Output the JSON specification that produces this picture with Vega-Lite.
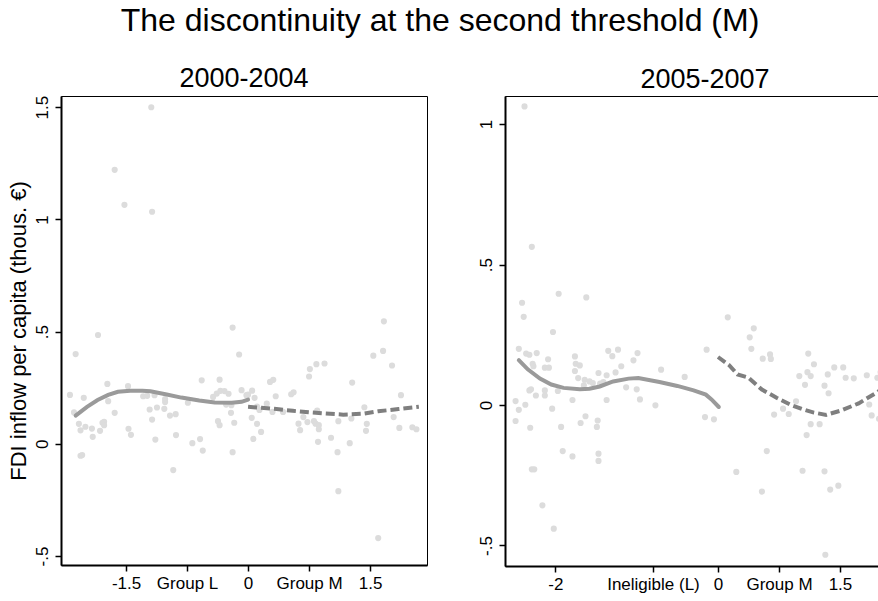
{
  "$schema": "https://vega.github.io/schema/vega-lite/v6.json",
  "background": "white",
  "padding": {"left": 6, "top": 4, "right": 0, "bottom": 0},
  "title": {"text": "The discontinuity at the second threshold (M)", "fontSize": 32, "anchor": "middle", "offset": 27, "dx": -16},
  "datasets": {
    "p1": [
      {"x": -1.845, "y": 0.485}, {"x": -2.12, "y": 0.40}, {"x": -0.19, "y": 0.518}, {"x": -0.11, "y": 0.398},
      {"x": -2.19, "y": 0.218}, {"x": -2.02, "y": 0.205}, {"x": -1.73, "y": 0.267}, {"x": -1.72, "y": 0.19},
      {"x": -2.14, "y": 0.14}, {"x": -2.08, "y": 0.089}, {"x": -2.06, "y": 0.06}, {"x": -2.0, "y": 0.076},
      {"x": -1.92, "y": 0.068}, {"x": -1.91, "y": 0.031}, {"x": -1.79, "y": 0.094}, {"x": -1.77, "y": 0.098},
      {"x": -1.77, "y": 0.083}, {"x": -1.82, "y": 0.058}, {"x": -2.06, "y": -0.053}, {"x": -2.04, "y": -0.05},
      {"x": -1.64, "y": 0.138}, {"x": -1.476, "y": 0.257}, {"x": -1.47, "y": 0.067}, {"x": -1.44, "y": 0.04},
      {"x": -1.29, "y": 0.212}, {"x": -1.24, "y": 0.214}, {"x": -1.15, "y": 0.217}, {"x": -1.21, "y": 0.153},
      {"x": -1.18, "y": 0.108}, {"x": -1.12, "y": 0.162}, {"x": -1.14, "y": 0.019}, {"x": -1.03, "y": 0.156},
      {"x": -1.02, "y": 0.186}, {"x": -1.02, "y": 0.199}, {"x": -0.96, "y": 0.126}, {"x": -0.89, "y": 0.132},
      {"x": -0.886, "y": 0.039}, {"x": -0.92, "y": -0.117}, {"x": -0.74, "y": 0.183}, {"x": -0.685, "y": 0.003},
      {"x": -0.59, "y": 0.021}, {"x": -0.557, "y": -0.03}, {"x": -0.57, "y": 0.283}, {"x": -0.35, "y": 0.286},
      {"x": -0.43, "y": 0.209}, {"x": -0.385, "y": 0.224}, {"x": -0.34, "y": 0.236}, {"x": -0.29, "y": 0.235},
      {"x": -0.24, "y": 0.223}, {"x": -0.27, "y": 0.175}, {"x": -0.205, "y": 0.172}, {"x": -0.21, "y": 0.138},
      {"x": -0.17, "y": 0.094}, {"x": -0.37, "y": 0.101}, {"x": -0.35, "y": 0.083}, {"x": -0.19, "y": -0.037},
      {"x": -0.08, "y": 0.239}, {"x": -0.02, "y": 0.217},
      {"x": 1.67, "y": 0.546}, {"x": 1.66, "y": 0.414}, {"x": 1.54, "y": 0.393}, {"x": 1.77, "y": 0.349},
      {"x": 1.88, "y": 0.217}, {"x": 1.79, "y": 0.119}, {"x": 1.86, "y": 0.071}, {"x": 2.02, "y": 0.074},
      {"x": 2.07, "y": 0.065}, {"x": 1.28, "y": 0.273}, {"x": 1.43, "y": 0.163}, {"x": 1.46, "y": 0.089},
      {"x": 1.45, "y": 0.058}, {"x": 1.25, "y": 0.003}, {"x": 1.10, "y": -0.037}, {"x": 1.02, "y": 0.027},
      {"x": 0.84, "y": 0.355}, {"x": 0.94, "y": 0.358}, {"x": 0.76, "y": 0.333}, {"x": 0.75, "y": 0.30},
      {"x": 0.85, "y": 0.148}, {"x": 0.68, "y": 0.119}, {"x": 0.62, "y": 0.09}, {"x": 0.64, "y": 0.061},
      {"x": 0.73, "y": 0.097}, {"x": 0.81, "y": 0.101}, {"x": 0.83, "y": 0.09}, {"x": 0.87, "y": 0.083},
      {"x": 0.87, "y": 0.065}, {"x": 0.86, "y": 0.009}, {"x": 1.11, "y": 0.101}, {"x": 1.27, "y": 0.113},
      {"x": 0.53, "y": 0.221}, {"x": 0.56, "y": 0.23}, {"x": 0.27, "y": 0.276}, {"x": 0.31, "y": 0.285},
      {"x": 0.34, "y": 0.212}, {"x": 0.30, "y": 0.142}, {"x": 0.43, "y": 0.142}, {"x": 0.05, "y": 0.237},
      {"x": 0.0, "y": 0.219}, {"x": 0.08, "y": 0.205}, {"x": 0.11, "y": 0.166}, {"x": 0.14, "y": 0.151},
      {"x": 0.23, "y": 0.179}, {"x": 0.045, "y": 0.116}, {"x": 0.11, "y": 0.089}, {"x": 0.16, "y": 0.053},
      {"x": 0.065, "y": 0.022}, {"x": 1.11, "y": -0.211}, {"x": 1.6, "y": -0.42},
      {"x": -1.19, "y": 1.50}, {"x": -1.64, "y": 1.221}, {"x": -1.52, "y": 1.065}, {"x": -1.18, "y": 1.034}
    ],
    "f1": [
      {"side": "L", "x": -2.12, "y": 0.126}, {"side": "L", "x": -1.98, "y": 0.165}, {"side": "L", "x": -1.85, "y": 0.195},
      {"side": "L", "x": -1.72, "y": 0.218}, {"side": "L", "x": -1.6, "y": 0.232}, {"side": "L", "x": -1.45, "y": 0.236},
      {"side": "L", "x": -1.3, "y": 0.236}, {"side": "L", "x": -1.2, "y": 0.234}, {"side": "L", "x": -1.0, "y": 0.22},
      {"side": "L", "x": -0.82, "y": 0.206}, {"side": "L", "x": -0.6, "y": 0.193}, {"side": "L", "x": -0.41, "y": 0.184},
      {"side": "L", "x": -0.2, "y": 0.183}, {"side": "L", "x": -0.08, "y": 0.187}, {"side": "L", "x": 0.0, "y": 0.197},
      {"side": "R", "x": 0.0, "y": 0.165}, {"side": "R", "x": 0.35, "y": 0.155}, {"side": "R", "x": 0.55, "y": 0.147},
      {"side": "R", "x": 0.76, "y": 0.140}, {"side": "R", "x": 0.95, "y": 0.135}, {"side": "R", "x": 1.17, "y": 0.13},
      {"side": "R", "x": 1.41, "y": 0.134}, {"side": "R", "x": 1.6, "y": 0.145}, {"side": "R", "x": 1.85, "y": 0.155},
      {"side": "R", "x": 2.1, "y": 0.165}
    ],
    "p2": [
      {"x": -2.45, "y": 0.20}, {"x": -2.36, "y": 0.183}, {"x": -2.32, "y": 0.179}, {"x": -2.23, "y": 0.185},
      {"x": -2.09, "y": 0.163}, {"x": -2.28, "y": 0.147}, {"x": -2.27, "y": 0.138}, {"x": -2.13, "y": 0.133},
      {"x": -2.08, "y": 0.133}, {"x": -2.32, "y": 0.052}, {"x": -2.30, "y": 0.056}, {"x": -2.24, "y": 0.034},
      {"x": -2.13, "y": 0.052}, {"x": -2.13, "y": 0.034}, {"x": -2.49, "y": 0.014}, {"x": -2.45, "y": -0.017},
      {"x": -2.37, "y": 0.001}, {"x": -2.49, "y": -0.057}, {"x": -2.31, "y": -0.081}, {"x": -2.04, "y": -0.013},
      {"x": -1.93, "y": -0.078}, {"x": -1.91, "y": -0.164}, {"x": -1.79, "y": -0.183}, {"x": -2.29, "y": -0.229},
      {"x": -2.26, "y": -0.229}, {"x": -2.16, "y": -0.357}, {"x": -2.03, "y": 0.26}, {"x": -1.97, "y": 0.05},
      {"x": -1.79, "y": 0.018}, {"x": -1.76, "y": 0.173}, {"x": -1.75, "y": 0.147}, {"x": -1.70, "y": 0.141},
      {"x": -1.76, "y": 0.121}, {"x": -1.72, "y": 0.096}, {"x": -1.64, "y": 0.09}, {"x": -1.58, "y": 0.084},
      {"x": -1.54, "y": 0.078}, {"x": -1.65, "y": 0.07}, {"x": -1.47, "y": 0.114}, {"x": -1.41, "y": 0.082},
      {"x": -1.45, "y": 0.076}, {"x": -1.37, "y": 0.106}, {"x": -1.63, "y": -0.04}, {"x": -1.69, "y": -0.064},
      {"x": -1.48, "y": -0.055}, {"x": -1.49, "y": -0.078}, {"x": -1.47, "y": -0.173}, {"x": -1.47, "y": -0.199},
      {"x": -1.37, "y": 0.018}, {"x": -1.35, "y": 0.193}, {"x": -1.30, "y": 0.174}, {"x": -1.23, "y": 0.197},
      {"x": -1.26, "y": 0.116}, {"x": -1.19, "y": 0.138}, {"x": -1.13, "y": 0.063}, {"x": -1.04, "y": 0.159},
      {"x": -0.99, "y": 0.185}, {"x": -1.0, "y": 0.056}, {"x": -0.96, "y": 0.02}, {"x": -0.70, "y": 0.126},
      {"x": -0.77, "y": -0.001}, {"x": -0.41, "y": 0.1}, {"x": -0.14, "y": 0.197}, {"x": -0.16, "y": -0.043},
      {"x": -0.05, "y": -0.051}, {"x": -2.02, "y": -0.44}, {"x": -2.38, "y": 1.063}, {"x": -2.29, "y": 0.563},
      {"x": -2.41, "y": 0.364}, {"x": -2.39, "y": 0.314}, {"x": -1.96, "y": 0.396}, {"x": -1.62, "y": 0.383},
      {"x": 0.12, "y": 0.312}, {"x": 0.44, "y": 0.273}, {"x": 0.39, "y": 0.241}, {"x": 0.41, "y": 0.20},
      {"x": 0.55, "y": 0.165}, {"x": 0.64, "y": 0.18}, {"x": 0.65, "y": 0.164}, {"x": 1.11, "y": 0.183},
      {"x": 1.18, "y": 0.145}, {"x": 1.0, "y": 0.103}, {"x": 1.10, "y": 0.117}, {"x": 1.14, "y": 0.103},
      {"x": 1.07, "y": 0.072}, {"x": 1.43, "y": 0.134}, {"x": 1.54, "y": 0.134}, {"x": 1.35, "y": 0.109},
      {"x": 1.57, "y": 0.097}, {"x": 1.67, "y": 0.095}, {"x": 1.31, "y": 0.069}, {"x": 1.36, "y": 0.042},
      {"x": 1.83, "y": 0.106}, {"x": 1.96, "y": 0.097}, {"x": 2.0, "y": 0.117}, {"x": 1.86, "y": 0.002},
      {"x": 1.89, "y": -0.037}, {"x": 1.98, "y": -0.049}, {"x": 0.96, "y": 0.013}, {"x": 0.80, "y": -0.013},
      {"x": 0.69, "y": -0.034}, {"x": 0.87, "y": -0.032}, {"x": 1.14, "y": -0.068}, {"x": 1.25, "y": -0.068},
      {"x": 1.09, "y": -0.107}, {"x": 0.60, "y": -0.164}, {"x": 0.225, "y": -0.238}, {"x": 1.04, "y": -0.234},
      {"x": 1.31, "y": -0.236}, {"x": 0.54, "y": -0.308}, {"x": 1.38, "y": -0.301}, {"x": 1.48, "y": -0.287},
      {"x": 1.32, "y": -0.533}
    ],
    "f2": [
      {"side": "L", "x": -2.45, "y": 0.16}, {"side": "L", "x": -2.34, "y": 0.127}, {"side": "L", "x": -2.19, "y": 0.094},
      {"side": "L", "x": -2.05, "y": 0.073}, {"side": "L", "x": -1.9, "y": 0.061}, {"side": "L", "x": -1.7, "y": 0.056},
      {"side": "L", "x": -1.58, "y": 0.058}, {"side": "L", "x": -1.455, "y": 0.066}, {"side": "L", "x": -1.29, "y": 0.084},
      {"side": "L", "x": -1.1, "y": 0.094}, {"side": "L", "x": -0.98, "y": 0.096}, {"side": "L", "x": -0.72, "y": 0.082},
      {"side": "L", "x": -0.5, "y": 0.068}, {"side": "L", "x": -0.3, "y": 0.052}, {"side": "L", "x": -0.15, "y": 0.037},
      {"side": "L", "x": -0.08, "y": 0.02}, {"side": "L", "x": 0.01, "y": -0.007},
      {"side": "R", "x": 0.0, "y": 0.171}, {"side": "R", "x": 0.14, "y": 0.141}, {"side": "R", "x": 0.24, "y": 0.109},
      {"side": "R", "x": 0.37, "y": 0.098}, {"side": "R", "x": 0.54, "y": 0.055}, {"side": "R", "x": 0.72, "y": 0.026},
      {"side": "R", "x": 0.9, "y": 0.0}, {"side": "R", "x": 1.05, "y": -0.016}, {"side": "R", "x": 1.18, "y": -0.027},
      {"side": "R", "x": 1.33, "y": -0.035}, {"side": "R", "x": 1.52, "y": -0.019}, {"side": "R", "x": 1.73, "y": 0.006},
      {"side": "R", "x": 1.96, "y": 0.046}, {"side": "R", "x": 2.2, "y": 0.095}
    ]
  },
  "spacing": 48,
  "hconcat": [
    {
      "width": 366,
      "height": 469,
      "title": {"text": "2000-2004", "fontSize": 27, "offset": 2},
      "encoding": {
        "x": {"field": "x", "type": "quantitative",
          "scale": {"domain": [-2.3, 2.2], "nice": false, "zero": false},
          "axis": {"title": null, "values": [-1.5, -0.75, 0, 0.75, 1.5],
            "labelExpr": "datum.value == -0.75 ? 'Group L' : datum.value == 0.75 ? 'Group M' : replace(toString(datum.value), '0.', '.')",
            "labelOverlap": false, "labelFlush": false, "labelBound": false}},
        "y": {"field": "y", "type": "quantitative",
          "scale": {"domain": [-0.54, 1.55], "nice": false, "zero": false},
          "axis": {"title": "FDI inflow per capita (thous. €)", "titleFontSize": 22, "titlePadding": 3,
            "values": [-0.5, 0, 0.5, 1, 1.5], "labelAngle": -90, "labelAlign": "center", "labelBaseline": "bottom",
            "labelExpr": "replace(toString(datum.value), '0.', '.')", "labelOverlap": false}}
      },
      "layer": [
        {"data": {"name": "p1"}, "mark": {"type": "circle", "size": 38, "color": "#dcdcdc", "opacity": 1}},
        {"data": {"name": "f1"}, "transform": [{"filter": "datum.side == 'L'"}],
          "mark": {"type": "line", "color": "#9a9a9a", "strokeWidth": 4, "strokeCap": "round"}},
        {"data": {"name": "f1"}, "transform": [{"filter": "datum.side == 'R'"}],
          "mark": {"type": "line", "color": "#7f7f7f", "strokeWidth": 4, "strokeDash": [9, 4], "strokeCap": "butt"}}
      ]
    },
    {
      "width": 400,
      "height": 470,
      "title": {"text": "2005-2007", "fontSize": 27, "offset": 2},
      "encoding": {
        "x": {"field": "x", "type": "quantitative",
          "scale": {"domain": [-2.62, 2.3], "nice": false, "zero": false},
          "axis": {"title": null, "values": [-2, -0.8, 0, 0.75, 1.5],
            "labelExpr": "datum.value == -0.8 ? 'Ineligible (L)' : datum.value == 0.75 ? 'Group M' : replace(toString(datum.value), '0.', '.')",
            "labelOverlap": false, "labelFlush": false, "labelBound": false}},
        "y": {"field": "y", "type": "quantitative",
          "scale": {"domain": [-0.573, 1.10], "nice": false, "zero": false},
          "axis": {"title": null,
            "values": [-0.5, 0, 0.5, 1], "labelAngle": -90, "labelAlign": "center", "labelBaseline": "bottom",
            "labelExpr": "replace(toString(datum.value), '0.', '.')", "labelOverlap": false}}
      },
      "layer": [
        {"data": {"name": "p2"}, "mark": {"type": "circle", "size": 38, "color": "#dcdcdc", "opacity": 1}},
        {"data": {"name": "f2"}, "transform": [{"filter": "datum.side == 'L'"}],
          "mark": {"type": "line", "color": "#9a9a9a", "strokeWidth": 4, "strokeCap": "round"}},
        {"data": {"name": "f2"}, "transform": [{"filter": "datum.side == 'R'"}],
          "mark": {"type": "line", "color": "#7f7f7f", "strokeWidth": 4, "strokeDash": [9, 4], "strokeCap": "butt"}}
      ]
    }
  ],
  "config": {
    "font": "Liberation Sans",
    "view": {"stroke": "black", "strokeWidth": 1},
    "axis": {"grid": false, "domainColor": "black", "domainWidth": 2, "tickColor": "black", "tickWidth": 1.5,
      "tickSize": 6, "labelColor": "black", "labelFontSize": 17, "labelFont": "Liberation Sans", "labelPadding": 4,
      "titleColor": "black", "titleFont": "Liberation Sans", "titleFontWeight": "normal"},
    "title": {"font": "Liberation Sans", "fontWeight": "normal", "color": "black"}
  }
}
